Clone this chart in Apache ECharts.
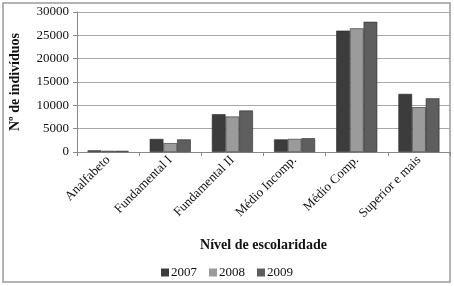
<!DOCTYPE html>
<html style="height: 100%">

<head>
    <meta charset="utf-8">
</head>

<body style="height: 100%; margin: 0; background: #fff">
    <div id="bar" style="width: 454px; height: 286px"></div>

    <script type="text/javascript" src="https://cdn.jsdelivr.net/npm/echarts@6/dist/echarts.min.js"></script>

    <script type="text/javascript">
        var categories = ['Analfabeto', 'Fundamental I', 'Fundamental II', 'Médio Incomp.', 'Médio Comp.', 'Superior e mais'];
        var years = ['2007', '2008', '2009'];
        var v2007 = [350, 2800, 8100, 2700, 26000, 12450];
        var v2008 = [250, 1900, 7600, 2800, 26500, 9600];
        var v2009 = [250, 2700, 8900, 2950, 27900, 11500];
        var yTicks = [0, 5000, 10000, 15000, 20000, 25000, 30000];

        var colors = ['#3c3c3c', '#9b9b9b', '#5e5e5e'];
        var serif = '"Liberation Serif", "DejaVu Serif", serif';

        var myChart = echarts.init(document.getElementById('bar'));

        var values = [v2007, v2008, v2009];
        var series = [];
        for (let i = 0; i < years.length; i++) {
            series.push({
                name: years[i],
                type: 'bar',
                barGap: '0%',
                barCategoryGap: '34%',
                itemStyle: {
                    color: colors[i],
                    borderColor: '#2a2a2a',
                    borderWidth: 0.6
                },
                data: values[i]
            });
        }

        var option = {
            animation: false,
            textStyle: { fontFamily: serif },
            graphic: [{
                type: 'rect',
                shape: { x: 3, y: 3, width: 447, height: 279 },
                style: { fill: 'none', stroke: '#9a9a9a', lineWidth: 1.5 },
                silent: true
            }],
            grid: { left: 70, right: 4, top: 12, bottom: 134 },
            legend: {
                data: years,
                top: 261,
                left: 'center',
                itemWidth: 8,
                itemHeight: 8,
                itemGap: 12,
                icon: 'rect',
                itemStyle: { borderWidth: 0 },
                textStyle: { fontFamily: serif, fontSize: 13, color: '#111', padding: [0, 0, 0, -3] }
            },
            xAxis: {
                type: 'category',
                data: categories,
                name: 'Nível de escolaridade',
                nameLocation: 'middle',
                nameGap: 86,
                nameTextStyle: { fontFamily: serif, fontSize: 14, fontWeight: 'bold', color: '#111' },
                axisLine: { show: true, lineStyle: { color: '#888', width: 1 } },
                axisTick: { show: true, length: 4, lineStyle: { color: '#888' } },
                axisLabel: {
                    rotate: 45,
                    interval: 0,
                    margin: 6,
                    fontFamily: serif,
                    fontSize: 13,
                    color: '#111'
                }
            },
            yAxis: {
                type: 'value',
                min: 0,
                max: 30000,
                interval: 5000,
                name: 'Nº de indivíduos',
                nameLocation: 'middle',
                nameGap: 55,
                nameTextStyle: { fontFamily: serif, fontSize: 14, fontWeight: 'bold', color: '#111' },
                axisLine: { show: true, lineStyle: { color: '#888', width: 1 } },
                axisTick: { show: true, length: 4, lineStyle: { color: '#888' } },
                axisLabel: {
                    margin: 8,
                    fontFamily: serif,
                    fontSize: 13,
                    color: '#111',
                    formatter: function (v) { return yTicks.indexOf(v) >= 0 ? String(v) : ''; }
                },
                splitLine: { show: true, lineStyle: { color: '#a8a8a8', width: 1 } }
            },
            series: series
        };

        myChart.setOption(option);
    </script>
</body>

</html>
